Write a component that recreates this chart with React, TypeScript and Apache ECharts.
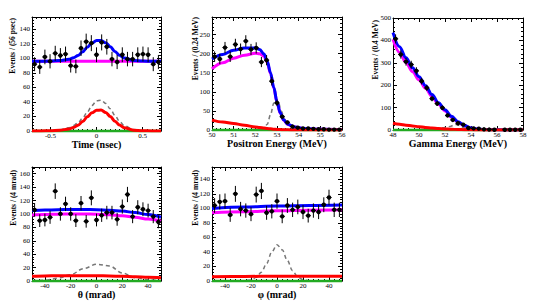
import React, { useEffect, useRef } from 'react';
import * as echarts from 'echarts';

const FONT = '"Liberation Serif", "DejaVu Serif", "Times New Roman", serif';

// ---------- Panel 1 : Time ----------
const timeRange = [-0.7, 0.7];
const timeBinWidth = 0.056;
const timeCounts = [92, 88, 102, 96, 107, 104, 106, 90, 89, 114, 123, 121, 105, 122, 116, 99, 95, 105, 99, 99, 105, 106, 105, 92, 95];
const timeCurveX = [-0.7, -0.6, -0.5, -0.4, -0.3, -0.25, -0.2, -0.15, -0.1, -0.05, 0, 0.05, 0.1, 0.15, 0.2, 0.25, 0.3, 0.4, 0.5, 0.6, 0.7];
const timeTotal = [96, 96.05, 96.3, 97, 98.8, 100.8, 104, 109, 115.5, 121, 124.5, 124.8, 121.5, 116, 109.5, 104.2, 100.5, 97.1, 96.3, 96.05, 96];
const timeRmd = [0, 0.05, 0.3, 1, 2.8, 4.8, 8, 13, 19.5, 25, 28.5, 28.8, 25.5, 20, 13.5, 8.2, 4.5, 1.1, 0.3, 0.05, 0];
const timeSig = [0, 0.1, 0.5, 1.7, 4.6, 7.5, 11.5, 18, 26, 35, 41.5, 42.5, 38, 30.5, 21.5, 13.5, 7.5, 2, 0.5, 0.1, 0];
const timeAccX = [-0.7, 0.7];
const timeAcc = [96, 96];
const timeXTicks = [-0.5, 0, 0.5];
const timeYTicks = [0, 20, 40, 60, 80, 100, 120, 140];

// ---------- Panel 2 : Positron energy ----------
const ePosRange = [50, 56];
const ePosBinWidth = 0.24;
const ePosCounts = [192, 186, 216, 192, 224, 212, 233, 211, 215, 178, 183, 128, 71, 35, 20, 9, 6, 4, 4, 3, 2, 2, 1, 1, 1];
const ePosCurveX = [50, 50.5, 51, 51.5, 52, 52.2, 52.4, 52.55, 52.7, 52.85, 53, 53.15, 53.3, 53.5, 53.8, 54.2, 55, 56];
const ePosTotal = [186, 198, 209, 215, 215, 211, 199, 180, 150, 112, 74, 45, 27, 15, 8, 4, 1.8, 0.9];
const ePosAcc = [160, 176, 188, 196, 201, 200, 193, 177, 148, 110, 73, 44, 26, 14.5, 7.7, 3.9, 1.8, 0.9];
const ePosRmd = [26, 21, 17, 12.5, 8, 6.5, 5, 4, 3, 2, 1.5, 1, 0.7, 0.4, 0.2, 0.1, 0, 0];
const ePosSigX = [50, 52.2, 52.4, 52.55, 52.7, 52.85, 52.95, 53.05, 53.2, 53.35, 53.5, 53.7, 54, 54.5, 56];
const ePosSig = [0, 0, 4, 15, 40, 70, 82, 75, 50, 28, 14, 5, 1, 0, 0];
const ePosXTicks = [50, 51, 52, 53, 54, 55, 56];
const ePosYTicks = [0, 50, 100, 150, 200, 250];

// ---------- Panel 3 : Gamma energy ----------
const eGamRange = [48, 58];
const eGamBinWidth = 0.4;
const eGamCounts = [407, 337, 305, 292, 264, 218, 188, 140, 118, 99, 65, 45, 30, 24, 9, 7, 6, 3, 2, 1, 0, 1, 1, 1, 1];
const eGamCurveX = [48, 48.5, 49, 49.5, 50, 50.5, 51, 51.5, 52, 52.5, 53, 53.5, 54, 54.5, 55, 56, 57, 58];
const eGamTotal = [435, 372, 322, 278, 238, 198, 158, 122, 90, 61, 37, 20, 9, 4, 1.8, 0.7, 0.3, 0.2];
const eGamAcc = [405, 346.5, 300.5, 260, 223.5, 186.5, 149, 115.2, 85, 57.6, 34.8, 18.7, 8.3, 3.65, 1.65, 0.65, 0.3, 0.2];
const eGamRmd = [30, 25.5, 21.5, 18, 14.5, 11.5, 9, 6.8, 5, 3.4, 2.2, 1.3, 0.7, 0.35, 0.15, 0.05, 0, 0];
const eGamSigX = [48, 49, 50, 51, 51.5, 52, 52.4, 52.7, 52.9, 53.1, 53.3, 53.6, 54, 54.5, 55, 58];
const eGamSig = [0.2, 0.8, 2, 5, 7.5, 11, 16, 22, 25, 20, 13, 7, 3, 1, 0.3, 0];
const eGamXTicks = [48, 50, 52, 54, 56, 58];
const eGamYTicks = [0, 100, 200, 300, 400, 500];

// ---------- Panel 4 : theta ----------
const thetaRange = [-50, 50];
const thetaBinWidth = 4;
const thetaCounts = [106, 90, 91, 95, 134, 100, 115, 100, 90, 116, 89, 124, 91, 98, 102, 102, 92, 111, 129, 96, 110, 107, 105, 96, 88];
const thetaCurveX = [-50, -40, -30, -20, -10, 0, 10, 20, 30, 40, 50];
const thetaTotal = [105, 105.8, 106.3, 106.6, 106.7, 106.4, 105.6, 104.2, 102, 99, 95];
const thetaAcc = [98.5, 99.2, 99.7, 100, 100, 99.7, 98.8, 97.2, 95, 92.3, 89];
const thetaRmd = [7, 7.5, 7.8, 8, 8, 7.8, 7.5, 7, 6.3, 5.7, 5];
const thetaSig = [0.3, 1.2, 4, 9.5, 18.5, 25, 22.5, 12, 5, 1.8, 0.5];
const angXTicks = [-40, -20, 0, 20, 40];
const thetaYTicks = [0, 20, 40, 60, 80, 100, 120, 140, 160];

// ---------- Panel 5 : phi ----------
const phiRange = [-50, 50];
const phiBinWidth = 4;
const phiCounts = [104, 109, 110, 91, 120, 99, 97, 92, 119, 124, 94, 96, 110, 89, 104, 98, 102, 95, 90, 97, 95, 105, 115, 98, 98];
const phiCurveX = [-50, -25, 0, 25, 50];
const phiTotal = [100, 102, 103.2, 104, 104.6];
const phiAcc = [94, 95.5, 96.7, 97.5, 98];
const phiRmd = [6, 6.3, 6.5, 6.5, 6.6];
const phiSigX = [-50, -25, -20, -16, -12, -8, -4, 0, 4, 8, 12, 16, 20, 25, 50];
const phiSig = [0, 0.3, 1.5, 5, 12, 24, 40, 50, 43, 28, 14, 5.5, 1.8, 0.3, 0];
const phiYTicks = [0, 20, 40, 60, 80, 100, 120, 140];

const zip = (xs: number[], ys: number[]) => xs.map((x, i) => [x, ys[i]]);
const centers = (range: number[], w: number, n: number) =>
  Array.from({ length: n }, (_, i) => +(range[0] + (i + 0.5) * w).toFixed(4));
const minorTicks = (min: number, max: number, step: number) => {
  const out: number[] = [];
  const start = Math.ceil(min / step - 1e-6);
  const end = Math.floor(max / step + 1e-6);
  for (let k = start; k <= end; k++) out.push(+(k * step).toFixed(4));
  return out;
};

const panels = [
  {
    grid: { left: 32, top: 17, width: 129, height: 114 },
    x: timeRange, y: [0, 157], xTicks: timeXTicks, xMinor: 0.05, yTicks: timeYTicks, yMinor: 4,
    xTitle: 'Time (nsec)', yTitle: 'Events / (56 psec)', yTitlePos: [12, 18], nameGap: 6,
    bw: timeBinWidth, counts: timeCounts,
    sig: zip(timeCurveX, timeSig), acc: zip(timeAccX, timeAcc), tot: zip(timeCurveX, timeTotal), rmd: zip(timeCurveX, timeRmd),
  },
  {
    grid: { left: 212, top: 17, width: 130, height: 113 },
    x: ePosRange, y: [0, 296], xTicks: ePosXTicks, xMinor: 0.2, yTicks: ePosYTicks, yMinor: 10,
    xTitle: 'Positron Energy (MeV)', yTitle: 'Events / (0.24 MeV)', yTitlePos: [195, 17], nameGap: 6,
    bw: ePosBinWidth, counts: ePosCounts,
    sig: zip(ePosSigX, ePosSig), acc: zip(ePosCurveX, ePosAcc), tot: zip(ePosCurveX, ePosTotal), rmd: zip(ePosCurveX, ePosRmd),
  },
  {
    grid: { left: 393, top: 18, width: 130, height: 112 },
    x: eGamRange, y: [0, 500], xTicks: eGamXTicks, xMinor: 0.4, yTicks: eGamYTicks, yMinor: 20,
    xTitle: 'Gamma Energy (MeV)', yTitle: 'Events / (0.4 MeV)', yTitlePos: [375, 20], nameGap: 6,
    bw: eGamBinWidth, counts: eGamCounts,
    sig: zip(eGamSigX, eGamSig), acc: zip(eGamCurveX, eGamAcc), tot: zip(eGamCurveX, eGamTotal), rmd: zip(eGamCurveX, eGamRmd),
  },
  {
    grid: { left: 32, top: 167, width: 129, height: 114 },
    x: thetaRange, y: [0, 170], xTicks: angXTicks, xMinor: 4, yTicks: thetaYTicks, yMinor: 4,
    xTitle: 'θ (mrad)', yTitle: 'Events / (4 mrad)', yTitlePos: [13, 170], nameGap: 7,
    bw: thetaBinWidth, counts: thetaCounts,
    sig: zip(thetaCurveX, thetaSig), acc: zip(thetaCurveX, thetaAcc), tot: zip(thetaCurveX, thetaTotal), rmd: zip(thetaCurveX, thetaRmd),
  },
  {
    grid: { left: 212, top: 167, width: 130, height: 114 },
    x: phiRange, y: [0, 157], xTicks: angXTicks, xMinor: 4, yTicks: phiYTicks, yMinor: 4,
    xTitle: 'φ (mrad)', yTitle: 'Events / (4 mrad)', yTitlePos: [195, 170], nameGap: 7,
    bw: phiBinWidth, counts: phiCounts,
    sig: zip(phiSigX, phiSig), acc: zip(phiCurveX, phiAcc), tot: zip(phiCurveX, phiTotal), rmd: zip(phiCurveX, phiRmd),
  },
];

function buildOption() {
  const grid: any[] = [];
  const xAxis: any[] = [];
  const yAxis: any[] = [];
  const series: any[] = [];
  const graphic: any[] = [];
  const black = { color: '#000', width: 1 };

  panels.forEach((p, g) => {
    grid.push({ ...p.grid, show: false });
    const xb = {
      type: 'value', gridIndex: g, min: p.x[0], max: p.x[1],
      splitLine: { show: false }, axisLabel: { show: false }, axisTick: { show: false },
      axisLine: { show: false, onZero: false }, silent: true,
    };
    const xMinor = minorTicks(p.x[0], p.x[1], p.xMinor);
    xAxis.push(
      {
        ...xb, position: 'bottom',
        axisLine: { show: true, onZero: false, lineStyle: black },
        axisTick: { show: true, inside: true, length: 4, customValues: p.xTicks, lineStyle: black },
        axisLabel: { show: true, customValues: p.xTicks, fontSize: 7, fontFamily: FONT, color: '#000', margin: 1 },
        name: p.xTitle, nameLocation: 'middle', nameGap: p.nameGap,
        nameTextStyle: { fontSize: 10, fontWeight: 'bold', fontFamily: FONT, color: '#000' },
      },
      { ...xb, position: 'bottom', axisTick: { show: true, inside: true, length: 2, customValues: xMinor, lineStyle: black } },
      {
        ...xb, position: 'top',
        axisLine: { show: true, onZero: false, lineStyle: black },
        axisTick: { show: true, inside: true, length: 4, customValues: p.xTicks, lineStyle: black },
      },
      { ...xb, position: 'top', axisTick: { show: true, inside: true, length: 2, customValues: xMinor, lineStyle: black } },
    );
    const yb = {
      type: 'value', gridIndex: g, min: p.y[0], max: p.y[1],
      splitLine: { show: false }, axisLabel: { show: false }, axisTick: { show: false },
      axisLine: { show: false, onZero: false }, silent: true,
    };
    const yMinor = minorTicks(p.y[0], p.y[1], p.yMinor);
    yAxis.push(
      {
        ...yb, position: 'left',
        axisLine: { show: true, onZero: false, lineStyle: black },
        axisTick: { show: true, inside: true, length: 4, customValues: p.yTicks, lineStyle: black },
        axisLabel: { show: true, customValues: p.yTicks, fontSize: 7, fontFamily: FONT, color: '#000', margin: 2 },
      },
      { ...yb, position: 'left', axisTick: { show: true, inside: true, length: 2, customValues: yMinor, lineStyle: black } },
      {
        ...yb, position: 'right',
        axisLine: { show: true, onZero: false, lineStyle: black },
        axisTick: { show: true, inside: true, length: 4, customValues: p.yTicks, lineStyle: black },
      },
      { ...yb, position: 'right', axisTick: { show: true, inside: true, length: 2, customValues: yMinor, lineStyle: black } },
    );

    const ax = { xAxisIndex: g * 4, yAxisIndex: g * 4 };
    const line = (name: string, data: number[][], color: string, width: number, type: any = 'solid', clip = true) => ({
      type: 'line', name, ...ax, data, showSymbol: false, symbol: 'none', smooth: 0.35, smoothMonotone: 'x',
      lineStyle: { color, width, type }, silent: true, clip, z: 2,
    });
    series.push(
      line('signal (upper limit)', p.sig, '#777777', 1.5, [4, 3]),
      line('accidental', p.acc, '#ff00ff', 3),
      line('total', p.tot, '#0000ff', 3),
      line('green', [[p.x[0], 0], [p.x[1], 0]], '#22aa22', 2.5, 'solid', false),
      line('RMD', p.rmd, '#ff0000', 3),
    );
    const half = p.bw / 2;
    const cs = centers(p.x, p.bw, p.counts.length);
    series.push({
      type: 'custom', name: 'data', ...ax, silent: true, z: 5,
      data: cs.map((c, i) => [c, p.counts[i]]).filter((d) => d[1] > 0),
      encode: { x: 0, y: 1 },
      renderItem: (params: any, api: any) => {
        const x = api.value(0);
        const y = api.value(1);
        const err = Math.sqrt(y);
        const c = api.coord([x, y]);
        const t = api.coord([x, y + err]);
        const b = api.coord([x, Math.max(0, y - err)]);
        const l = api.coord([x - half, y]);
        const r = api.coord([x + half, y]);
        return {
          type: 'group',
          children: [
            { type: 'line', shape: { x1: c[0], y1: t[1], x2: c[0], y2: b[1] }, style: { stroke: '#000', lineWidth: 1 } },
            { type: 'line', shape: { x1: l[0], y1: c[1], x2: r[0], y2: c[1] }, style: { stroke: '#000', lineWidth: 1 } },
            { type: 'circle', shape: { cx: c[0], cy: c[1], r: 2.2 }, style: { fill: '#000' } },
          ],
        };
      },
    });

    graphic.push({
      type: 'text', x: p.yTitlePos[0], y: p.yTitlePos[1], rotation: Math.PI / 2, silent: true,
      style: {
        text: p.yTitle, align: 'right', verticalAlign: 'middle',
        font: `bold 7.5px ${FONT}`, fill: '#000',
      },
    });
  });

  return {
    animation: false,
    backgroundColor: '#ffffff',
    textStyle: { fontFamily: FONT },
    grid, xAxis, yAxis, series, graphic,
  };
}

export default function App() {
  const ref = useRef<HTMLDivElement>(null);
  useEffect(() => {
    if (!ref.current) return;
    const chart = echarts.init(ref.current, undefined, { renderer: 'svg' });
    chart.setOption(buildOption() as any);
    return () => chart.dispose();
  }, []);
  return <div ref={ref} style={{ position: 'absolute', left: 0, top: 0, width: 545, height: 302 }} />;
}
